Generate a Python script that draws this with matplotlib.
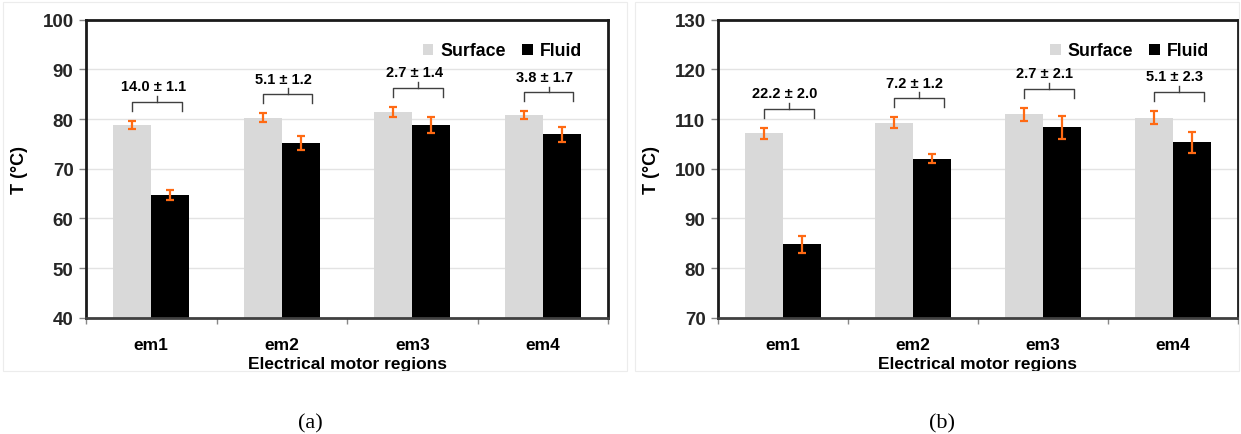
import matplotlib.pyplot as plt
from matplotlib.patches import Patch, Rectangle
import numpy as np

plt.rcParams['font.family'] = ['Liberation Sans', 'DejaVu Sans']

# ---------------------------------------------------------------------
# data
# ---------------------------------------------------------------------
regions = ['em1', 'em2', 'em3', 'em4']

# panel (a)
surf_a = [78.8, 80.3, 81.5, 80.8]
surf_a_err = [0.9, 0.95, 1.0, 0.75]
fluid_a = [64.7, 75.1, 78.8, 76.9]
fluid_a_err = [1.1, 1.4, 1.6, 1.55]
diff_a = ['14.0 ± 1.1', '5.1 ± 1.2', '2.7 ± 1.4', '3.8 ± 1.7']

# panel (b)
surf_b = [107.15, 109.3, 111.0, 110.3]
surf_b_err = [1.1, 1.05, 1.3, 1.4]
fluid_b = [84.8, 102.0, 108.3, 105.3]
fluid_b_err = [1.75, 0.95, 2.25, 2.1]
diff_b = ['22.2 ± 2.0', '7.2 ± 1.2', '2.7 ± 2.1', '5.1 ± 2.3']

W, H = 1241, 435
fig = plt.figure(figsize=(W / 100, H / 100), dpi=100)

# faint chart-area frames (Excel style)
for x0, x1 in [(3, 627), (635, 1239)]:
    fig.patches.append(Rectangle((x0 / W, 1 - 372 / H), (x1 - x0) / W, (372 - 3) / H,
                                 transform=fig.transFigure, fill=False,
                                 edgecolor='#ececec', linewidth=0.8))


def panel(rect, surf, serr, fluid, ferr, diffs, ylim, legx):
    ax = fig.add_axes(rect)
    x = np.arange(len(regions))
    bw = 0.29
    ax.bar(x - bw / 2, surf, bw, color='#d9d9d9', zorder=2, label='Surface')
    ax.bar(x + bw / 2, fluid, bw, color='black', zorder=2, label='Fluid')
    ax.errorbar(x - bw / 2, surf, yerr=serr, fmt='none', ecolor='#ff6a13',
                elinewidth=1.6, capsize=3, capthick=1.6, zorder=3)
    ax.errorbar(x + bw / 2, fluid, yerr=ferr, fmt='none', ecolor='#ff6a13',
                elinewidth=1.6, capsize=3, capthick=1.6, zorder=3)

    # brackets with the difference labels
    for i in range(len(regions)):
        y0 = max(surf[i] + serr[i], fluid[i] + ferr[i]) + 2.0
        xl = x[i] - bw / 2
        xr = xl + 0.38
        xm = (xl + xr) / 2
        ax.plot([xl, xl, xr, xr], [y0, y0 + 1.8, y0 + 1.8, y0],
                color='#404040', lw=1.0, zorder=4, solid_joinstyle='round')
        ax.plot([xm, xm], [y0 + 1.8, y0 + 3.0], color='#404040', lw=1.0, zorder=4)
        ax.text(xm - 0.03, y0 + 4.9, diffs[i], ha='center', va='center',
                fontsize=10.5, fontweight='bold')

    ax.set_xlim(-0.5, len(regions) - 0.5)
    ax.set_ylim(*ylim)
    ax.set_yticks(np.arange(ylim[0], ylim[1] + 1, 10))
    ax.yaxis.grid(True, color='#e3e3e3', lw=1.0, zorder=0)
    ax.set_axisbelow(True)

    ax.set_xticks(x)
    ax.set_xticklabels(regions, fontsize=12.5, fontweight='bold')
    ax.tick_params(axis='x', length=0, pad=14)
    ax.set_xticks(np.arange(-0.5, len(regions)), minor=True)
    ax.tick_params(axis='x', which='minor', length=4, color='#888888', width=1)
    ax.tick_params(axis='y', length=5, color='#888888', width=1,
                   labelsize=13.5, pad=4)
    for lab in ax.get_yticklabels():
        lab.set_fontweight('bold')
        lab.set_color('#262626')

    for s in ax.spines.values():
        s.set_color('#1a1a1a')
        s.set_linewidth(2.0)
    ax.spines['bottom'].set_color('#404040')

    ax.set_xlabel('Electrical motor regions', fontsize=12.5, fontweight='bold')
    ax.xaxis.set_label_coords(0.5, -0.128)
    ax.set_ylabel('T (°C)', fontsize=13, fontweight='bold')
    ax.yaxis.set_label_coords(-58 / (rect[2] * W), 0.5)

    handles = [Patch(facecolor='#d9d9d9', edgecolor='none'),
               Patch(facecolor='black', edgecolor='none')]
    ax.legend(handles, ['Surface', 'Fluid'], ncol=2, frameon=False,
              loc='center right', bbox_to_anchor=(legx, 0.895),
              prop={'weight': 'bold', 'size': 12.8},
              handlelength=0.6, handleheight=0.6, handletextpad=0.4,
              columnspacing=0.9, borderpad=0, borderaxespad=0)
    return ax


ax_top = 1 - 318.7 / H
ax_h = (318.7 - 20.7) / H
panel([86 / W, ax_top, (608 - 86) / W, ax_h],
      surf_a, surf_a_err, fluid_a, fluid_a_err, diff_a, (40, 100), 0.95)
panel([718 / W, ax_top, (1238 - 718) / W, ax_h],
      surf_b, surf_b_err, fluid_b, fluid_b_err, diff_b, (70, 130), 0.945)

fig.text(310 / W, 1 - 424 / H, '(a)', ha='center', va='center',
         family='Liberation Serif', fontsize=16)
fig.text(942 / W, 1 - 424 / H, '(b)', ha='center', va='center',
         family='Liberation Serif', fontsize=16)

fig.savefig('out.png', dpi=100)
